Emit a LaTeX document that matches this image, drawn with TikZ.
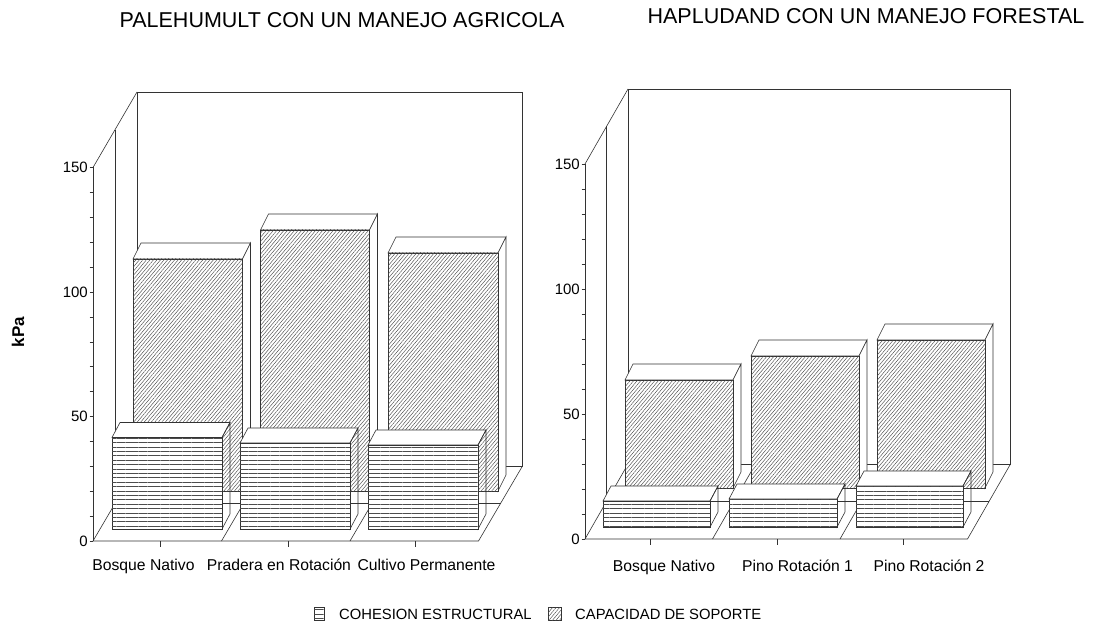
\documentclass[tikz,border=0pt]{standalone}
\usepackage{fontspec}
\setmainfont{Liberation Sans}
\usetikzlibrary{patterns.meta}
\tikzset{
  ln/.style={draw=black!80, line width=0.6pt},
  cohbar/.style={fill=white, postaction={pattern={Lines[angle=0,distance=4.4pt,line width=0.42pt]}, pattern color=black!70}},
  capbar/.style={fill=white, postaction={pattern={Lines[angle=50,distance=2.7pt,line width=0.45pt]}, pattern color=black!70}},
  lab/.style={font=\fontsize{15.7}{18}\selectfont, inner sep=0pt, anchor=base},
  num/.style={font=\fontsize{15}{18}\selectfont, inner sep=0pt, anchor=east},
  ttl/.style={font=\fontsize{21.5}{24}\selectfont, inner sep=0pt, anchor=base},
  leg/.style={font=\fontsize{14.8}{17}\selectfont, inner sep=0pt, anchor=base west},
}
% x, ybottom, width, ytop, depth dx, depth dy (up), front style, side style
\newcommand\tdbar[8]{%
  \draw[ln, fill=white] (#1,#4) -- ++(#5,-#6) -- ++(#3,0) -- ++(-#5,#6) -- cycle;
  \draw[ln, #8] ({#1+#3},#4) -- ++(#5,-#6) -- ({#1+#3+#5},{#2-#6}) -- ({#1+#3},#2) -- cycle;
  \draw[ln, #7] (#1,#4) rectangle ({#1+#3},#2);
}
\begin{document}
\begin{tikzpicture}[x=1pt,y=-1pt]
\useasboundingbox[fill=white] (0,0) rectangle (1100,636);

% ---------- titles ----------
\node[ttl] (t1) at (342,28) {PALEHUMULT CON UN MANEJO AGRICOLA};
\node[ttl] (t2) at (866,24) {HAPLUDAND CON UN MANEJO FORESTAL};
\node[font=\bfseries\fontsize{17}{20}\selectfont, rotate=90, inner sep=0pt] (kpa) at (18,332) {kPa};

% ---------- left chart frame ----------
\draw[ln] (137,92) rectangle (522.5,466);
\draw[ln] (93,167.5) -- (137,92);
\draw[ln] (93,541) -- (93,167.5);
\draw[ln] (115,130) -- (115,503.5);
\draw[ln] (93,541) -- (478.5,541) -- (522.5,466);
\draw[ln] (93,541) -- (137,466);
\draw[ln] (221.5,541) -- (265.5,466);
\draw[ln] (350,541) -- (394,466);
\draw[ln] (115,503.5) -- (500.5,503.5);
\foreach \v in {0,10,...,150} \draw[ln] (89.5,{541-2.49*\v}) -- (93,{541-2.49*\v});
\node[num] (l0) at (88,541) {0};
\node[num] (l50) at (88,416.5) {50};
\node[num] (l100) at (88,292) {100};
\node[num] (l150) at (88,167.5) {150};
\foreach \x in {160,288,415} \draw[ln] (\x,541) -- (\x,547);

% left bars: back row
\tdbar{133}{491}{109.5}{259}{8}{16}{capbar}{fill=white}
\tdbar{260.5}{491}{109}{230}{8}{16}{capbar}{fill=white}
\tdbar{388}{491}{110}{253}{8}{16}{capbar}{fill=white}
% left bars: front row
\tdbar{112}{529}{110}{437.5}{8}{15}{cohbar}{}
\tdbar{240}{529}{110}{443}{8}{15}{cohbar}{}
\tdbar{368}{529}{110}{445}{8}{15}{cohbar}{}

\node[lab] (c1) at (143.5,570.5) {Bosque Nativo};
\node[lab] (c2) at (279,570.5) {Pradera en Rotación};
\node[lab] (c3) at (426.5,570.5) {Cultivo Permanente};

% ---------- right chart frame ----------
\draw[ln] (628,89) rectangle (1010.5,464);
\draw[ln] (585,164) -- (628,89);
\draw[ln] (585,539) -- (585,164);
\draw[ln] (606.5,126.5) -- (606.5,501.5);
\draw[ln] (585,539) -- (967.5,539) -- (1010.5,464);
\draw[ln] (585,539) -- (628,464);
\draw[ln] (712.5,539) -- (755.5,464);
\draw[ln] (840,539) -- (883,464);
\draw[ln] (606.5,501.5) -- (989,501.5);
\foreach \v in {0,10,...,150} \draw[ln] (581.5,{539-2.5*\v}) -- (585,{539-2.5*\v});
\node[num] (r0) at (580,539) {0};
\node[num] (r50) at (580,414) {50};
\node[num] (r100) at (580,289) {100};
\node[num] (r150) at (580,164) {150};
\foreach \x in {650,777,903} \draw[ln] (\x,539) -- (\x,545);

% right bars: back row
\tdbar{625}{488}{108}{380}{8}{16}{capbar}{fill=white}
\tdbar{751}{488}{108}{356}{8}{16}{capbar}{fill=white}
\tdbar{877}{488}{108}{340}{8}{16}{capbar}{fill=white}
% right bars: front row
\tdbar{603}{527}{107}{501}{8}{15}{cohbar}{}
\tdbar{729}{527}{108}{499}{8}{15}{cohbar}{}
\tdbar{856}{527}{107}{486}{8}{15}{cohbar}{}

\node[lab] (d1) at (664,571) {Bosque Nativo};
\node[lab] (d2) at (797.5,571) {Pino Rotación 1};
\node[lab] (d3) at (929,571) {Pino Rotación 2};

% ---------- legend ----------
\draw[ln, cohbar] (314,607) rectangle (324,620);
\node[leg] (lg1) at (339,619.5) {COHESION ESTRUCTURAL};
\draw[ln, capbar] (548,607) rectangle (561,620);
\node[leg] (lg2) at (575,619.5) {CAPACIDAD DE SOPORTE};
\end{tikzpicture}
\end{document}
